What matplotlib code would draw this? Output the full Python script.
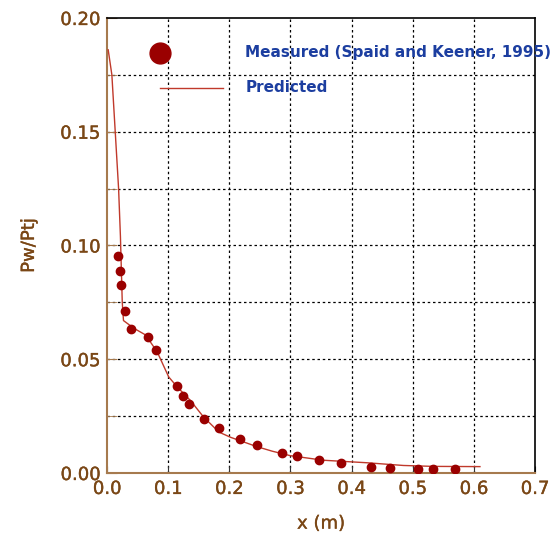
import matplotlib
matplotlib.use("Agg")
import matplotlib.pyplot as plt
import matplotlib.patheffects as pe

# ---- Data ----
meas_x = [0.018, 0.022, 0.023, 0.029, 0.039, 0.067, 0.080, 0.115, 0.125, 0.134,
          0.159, 0.183, 0.218, 0.245, 0.287, 0.311, 0.347, 0.383, 0.431, 0.463,
          0.508, 0.534, 0.570]
meas_y = [0.0953, 0.0886, 0.0825, 0.0710, 0.0635, 0.0599, 0.0540, 0.0381, 0.0340, 0.0305,
          0.0239, 0.0199, 0.0149, 0.0121, 0.0087, 0.0074, 0.0059, 0.0042, 0.0025, 0.0020,
          0.0018, 0.0018, 0.0017]

pred_x = [0.002, 0.008, 0.019, 0.022, 0.025, 0.027, 0.044, 0.063, 0.082, 0.101,
          0.115, 0.136, 0.158, 0.183, 0.202, 0.245, 0.270, 0.300, 0.354, 0.425,
          0.485, 0.534, 0.610]
pred_y = [0.186, 0.175, 0.125, 0.104, 0.075, 0.067, 0.0636, 0.0607, 0.0533, 0.0422,
          0.0378, 0.0320, 0.0246, 0.0180, 0.0157, 0.0116, 0.0096, 0.0076, 0.0056, 0.0045,
          0.0033, 0.0029, 0.0028]

x_ticks = [0.0, 0.1, 0.2, 0.3, 0.4, 0.5, 0.6, 0.7]
y_ticks = [0.0, 0.05, 0.10, 0.15, 0.20]
y_grid = [0.025, 0.05, 0.075, 0.10, 0.125, 0.15, 0.175]

BROWN = "#7a4716"
SPINE = "#a67a4e"
BLUE = "#1c3ea0"
DOT = "#9a0000"
LINE = "#c0392b"

plt.rcParams["font.family"] = ["DejaVu Sans"]

fig = plt.figure(figsize=(5.56, 5.40), dpi=100)
ax = fig.add_axes([0.1924, 0.1241, 0.7698, 0.8426])

ax.plot(pred_x, pred_y, color=LINE, lw=1.0, zorder=3)
ax.plot(meas_x, meas_y, "o", color=DOT, ms=6.0, mec=DOT, zorder=4)

ax.set_xlim(0, 0.7)
ax.set_ylim(0, 0.2)
ax.set_xticks(x_ticks)
ax.set_xticklabels([f"{v:.1f}" for v in x_ticks])
ax.set_yticks(y_ticks)
ax.set_yticklabels([f"{v:.2f}" for v in y_ticks])
ax.set_yticks(y_grid, minor=True)

for v in x_ticks[1:-1]:
    ax.axvline(v, color="black", lw=0.9, ls=(0, (2, 2.2)), zorder=1)
for v in y_grid:
    ax.axhline(v, color="black", lw=0.9, ls=(0, (2, 2.2)), zorder=1)

ax.tick_params(axis="both", which="both", direction="in", length=7, color=SPINE,
               labelcolor=BROWN, labelsize=13, pad=5)
ax.tick_params(axis="x", color="#333333", length=5)
for side in ["left", "bottom"]:
    ax.spines[side].set_color(SPINE)
    ax.spines[side].set_linewidth(1.5)
for side in ["right", "top"]:
    ax.spines[side].set_color("black")
    ax.spines[side].set_linewidth(1.2)

ax.set_xlabel("x (m)", color=BROWN, fontsize=13, labelpad=12)
ax.set_ylabel("Pw/Ptj", color=BROWN, fontsize=13, labelpad=16)

# a touch heavier strokes on the brown axis text, as in the original
heavy = [pe.withStroke(linewidth=0.25, foreground=BROWN)]
for t in ax.get_xticklabels() + ax.get_yticklabels() + [ax.xaxis.label, ax.yaxis.label]:
    t.set_path_effects(heavy)

# legend drawn by hand, text spills past the right frame like the original
ax.plot([0.0875], [0.1847], "o", color=DOT, ms=15, clip_on=False, zorder=5)
ax.plot([0.087, 0.190], [0.1693, 0.1693], color=LINE, lw=1.0, zorder=5)
ax.text(0.226, 0.1847, "Measured (Spaid and Keener, 1995)", color=BLUE,
        fontsize=11, fontweight="bold", va="center", clip_on=False, zorder=5)
ax.text(0.226, 0.1693, "Predicted", color=BLUE, fontsize=11,
        fontweight="bold", va="center", zorder=5)

fig.savefig("out.png", dpi=100)
